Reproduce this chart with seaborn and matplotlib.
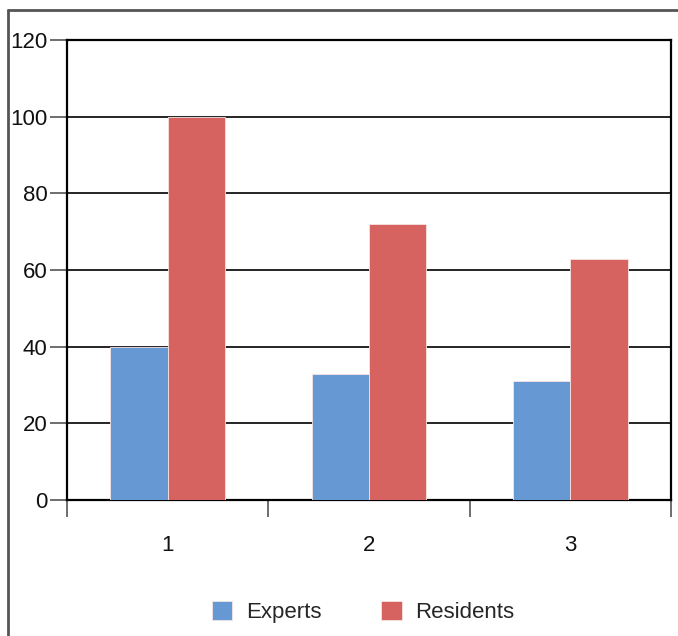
import matplotlib
matplotlib.use("Agg")
import matplotlib.pyplot as plt
from matplotlib.lines import Line2D
import seaborn as sns
import pandas as pd

# Chart data
groups = ["1", "2", "3"]
experts = [40, 33, 31]
residents = [100, 72, 63]
series_names = ["Experts", "Residents"]
y_ticks = [0, 20, 40, 60, 80, 100, 120]

colors = {"Experts": "#6699d4", "Residents": "#d6635f"}

df = pd.DataFrame({
    "group": groups * 2,
    "value": experts + residents,
    "series": [series_names[0]] * len(groups) + [series_names[1]] * len(groups),
})

sns.set_theme(style="white")
plt.rcParams["font.family"] = ["Liberation Sans", "DejaVu Sans"]

fig = plt.figure(figsize=(6.78, 6.36), dpi=100)
ax = fig.add_axes([67 / 678, 1 - 500 / 636, (671 - 67) / 678, (500 - 40) / 636])

sns.barplot(data=df, x="group", y="value", hue="series", palette=colors,
            width=0.57, saturation=1, linewidth=0.6, edgecolor="#f7e4e3",
            ax=ax, zorder=3, legend=True)

ax.set_xlim(-0.5, 2.5)
ax.set_ylim(0, 120)
ax.set_yticks(y_ticks)
ax.set_xlabel("")
ax.set_ylabel("")

# Horizontal grid behind the bars
ax.yaxis.grid(True, color="black", linewidth=1.2, zorder=0)
ax.set_axisbelow(True)

for side in ["left", "bottom", "top", "right"]:
    ax.spines[side].set_visible(True)
    ax.spines[side].set_color("black")
    ax.spines[side].set_linewidth(1.6)

# Category labels without marks; separators as minor ticks on the boundaries
ax.set_xticks([0, 1, 2])
ax.set_xticklabels(groups)
ax.set_xticks([-0.5, 0.5, 1.5, 2.5], minor=True)
ax.tick_params(axis="x", which="major", length=0, pad=25, labelsize=16, labelcolor="#111111")
ax.tick_params(axis="x", which="minor", length=12, width=1.2, color="#555555", direction="out", bottom=True)
ax.tick_params(axis="y", which="major", length=12, width=1.2, color="#555555", direction="out",
               left=True, pad=2, labelsize=16, labelcolor="#111111")

handles, labels = ax.get_legend_handles_labels()
ax.legend_.remove()
fig.legend(handles, labels, loc="center", bbox_to_anchor=(363 / 678, 1 - 612 / 636),
           ncol=2, frameon=False, fontsize=16, handlelength=0.92, handleheight=0.92,
           handletextpad=0.6, columnspacing=2.7)

# Outer frame (top and left edges)
frame_kw = dict(color="#555555", linewidth=2, transform=fig.transFigure)
fig.add_artist(Line2D([8 / 678, 8 / 678], [0, 1 - 10 / 636], **frame_kw))
fig.add_artist(Line2D([8 / 678, 1], [1 - 10 / 636, 1 - 10 / 636], **frame_kw))

fig.savefig("out.png", dpi=100)
